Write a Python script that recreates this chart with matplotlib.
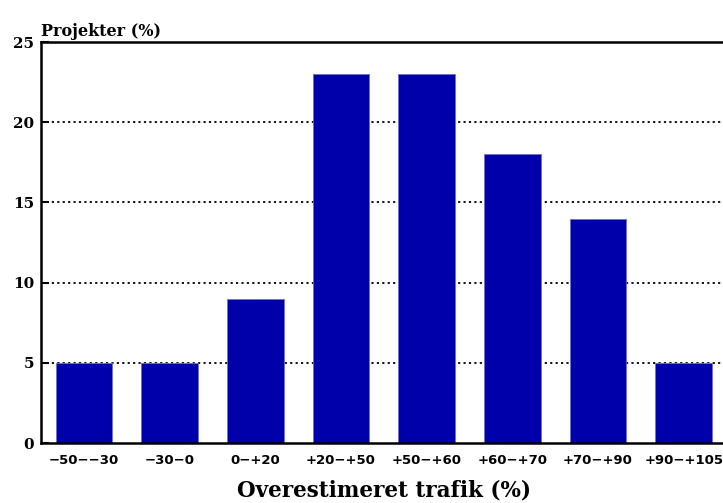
import numpy as np
import matplotlib.pyplot as plt

# ---*** DATA ***---
categories = ["\u221250\u2212\u221230", "\u221230\u22120", "0\u2212+20", "+20\u2212+50",
              "+50\u2212+60", "+60\u2212+70", "+70\u2212+90", "+90\u2212+105"]
projekter = [5, 5, 9, 23, 23, 18, 14, 5]
yticks = [0, 5, 10, 15, 20, 25]

# ---*** PLOT ***---
fig = plt.figure(figsize=(7.23, 5.03), dpi=100)
ax = fig.add_axes([0.0567, 0.119, 0.9483, 0.7975])

x = np.arange(len(categories))
ax.bar(x, projekter, width=0.66, color="#0000aa", edgecolor="#6f6fd0", linewidth=0.6, zorder=2)

ax.set_xlim(-0.5, len(categories) - 0.5)
ax.set_ylim(0, 25)
ax.set_yticks(yticks)
ax.set_xticks(x)
ax.set_xticklabels(categories, fontfamily="DejaVu Sans", fontweight="bold", fontsize=9.5)
for lab in ax.get_yticklabels():
	lab.set_fontfamily("DejaVu Serif")
	lab.set_fontweight("bold")
	lab.set_fontsize(11)

ax.tick_params(axis="x", direction="in", length=5, width=1.5, pad=8)
ax.tick_params(axis="y", direction="in", length=6, width=1.5, pad=5)
for t in ax.xaxis.get_major_ticks():
	t.tick1line.set_zorder(3)

for yv in yticks[1:-1]:
	ax.axhline(yv, color="black", linestyle=(0, (1.2, 1.8)), linewidth=1.3, zorder=1)

for s in ["left", "bottom", "top"]:
	ax.spines[s].set_linewidth(1.8)
ax.spines["right"].set_visible(False)

ax.set_xlabel("Overestimeret trafik (%)", fontfamily="DejaVu Serif", fontweight="bold",
              fontsize=15.5, labelpad=9)
fig.text(0.0567, 0.928, "Projekter (%)", fontfamily="DejaVu Serif", fontweight="bold",
         fontsize=11.5, ha="left", va="baseline")

fig.savefig("out.png", dpi=100)
